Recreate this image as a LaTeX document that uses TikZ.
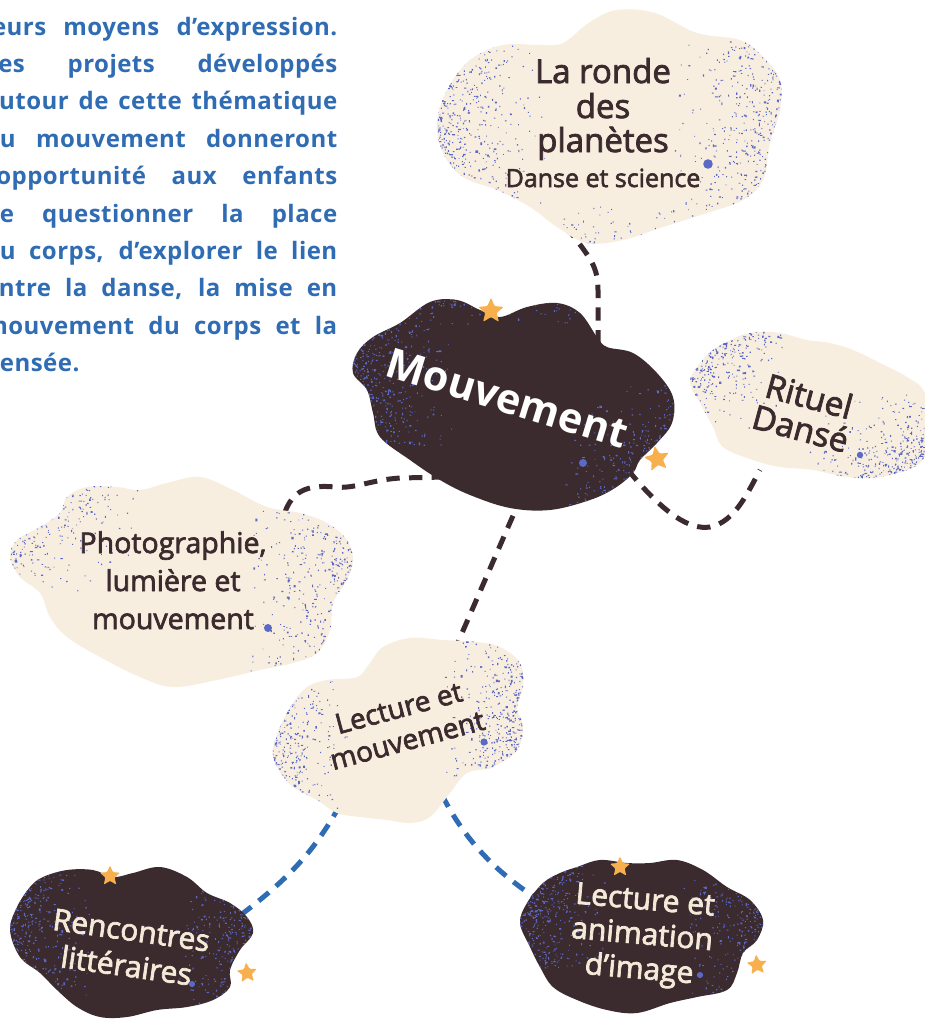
\documentclass[tikz,border=0pt]{standalone}
\usepackage{fontspec}
\setmainfont{Open Sans}
\newfontfamily\med{Open Sans}[FakeBold=2.4]
\newfontfamily\parafont{Open Sans}[LetterSpace=2]
\usetikzlibrary{shapes.geometric}
\definecolor{dark}{HTML}{3B2B2E}
\definecolor{cream}{HTML}{F8EEDF}
\definecolor{speckcol}{HTML}{5A68C6}
\definecolor{starcol}{HTML}{F8B04E}
\definecolor{parablue}{HTML}{2F6CB3}
\definecolor{lightcream}{HTML}{F4EAD8}
% #1 x0, #2 y0, #3 w, #4 h, #5 count, #6 x-law, #7 y-law
\newcommand\speck[7]{%
  \fill[speckcol] \foreach \k in {1,...,#5}{ ({#1+#3*(#6)},{#2+#4*(#7)}) rectangle ++({0.9+2.6*rnd*rnd*rnd},{0.9+2.6*rnd*rnd*rnd}) };%
}
\def\cA{plot[smooth cycle,tension=0.6] coordinates {(563,43) (590,22) (617,10) (655,13) (697,33) (740,40) (763,57) (780,80) (780,110) (770,143) (763,180) (743,200) (707,213) (663,227) (623,240) (587,243) (557,227) (530,207) (497,190) (463,177) (443,153) (437,123) (447,90) (470,60) (503,45) (540,45)}}
\def\cB{plot[smooth cycle,tension=0.6] coordinates {(400,323) (430,302) (457,300) (480,310) (500,317) (527,307) (557,303) (580,313) (597,337) (607,347) (633,353) (657,373) (673,397) (672,423) (657,443) (640,460) (633,473) (615,488) (590,500) (550,510) (510,508) (470,495) (440,480) (410,460) (380,437) (373,413) (367,390) (353,373) (357,353) (373,337)}}
\def\cC{plot[smooth cycle,tension=0.6] coordinates {(737,337) (757,332) (780,333) (807,340) (830,343) (853,350) (880,363) (907,377) (925,393) (930,430) (920,463) (880,477) (847,477) (813,470) (780,467) (753,460) (723,447) (713,427) (700,403) (690,383) (697,367) (713,350)}}
\def\cD{plot[smooth cycle,tension=0.6] coordinates {(167,483) (200,477) (233,490) (267,507) (300,513) (327,523) (347,540) (353,560) (347,580) (333,603) (330,630) (317,653) (293,663) (260,670) (217,680) (173,687) (140,677) (100,657) (67,637) (50,617) (40,593) (20,577) (10,557) (17,540) (40,527) (60,513) (67,497) (87,487) (117,487) (140,490)}}
\def\cE{plot[smooth cycle,tension=0.6] coordinates {(410,638) (443,640) (477,642) (500,647) (520,663) (523,687) (517,707) (523,727) (517,750) (493,767) (467,773) (450,793) (430,817) (410,823) (387,820) (360,817) (337,813) (317,800) (293,787) (277,767) (273,750) (280,727) (293,703) (307,687) (327,680) (357,677) (370,663) (383,647)}}
\def\cF{plot[smooth cycle,tension=0.6] coordinates {(43,877) (67,870) (93,870) (113,877) (133,873) (160,867) (187,877) (207,893) (230,903) (247,917) (253,933) (240,950) (230,970) (230,987) (213,1000) (187,1007) (157,1010) (127,1017) (100,1017) (77,1007) (57,990) (40,973) (20,957) (10,930) (17,907) (30,887)}}
\def\cG{plot[smooth cycle,tension=0.6] coordinates {(577,867) (600,860) (627,863) (650,863) (677,860) (703,870) (727,887) (750,900) (763,920) (757,940) (743,953) (737,973) (727,990) (697,997) (670,1003) (637,1013) (607,1010) (577,1000) (553,987) (540,967) (530,947) (520,923) (527,903) (543,883) (560,873)}}
\begin{document}
\begin{tikzpicture}[x=0.75pt,y=-0.75pt,
  para/.style={text=parablue,font=\parafont\bfseries\fontsize{18pt}{21pt}\selectfont,inner sep=0pt,anchor=base west},
  conn/.style={draw=dark,line width=3.75pt,dash pattern=on 10pt off 7pt},
  bconn/.style={draw=parablue,line width=3.75pt,dash pattern=on 10pt off 7pt},
  ctxt/.style={text=dark,inner sep=0pt,align=center},
  dtxt/.style={text=lightcream,inner sep=0pt,align=center},
  starbig/.style={star,star points=5,star point ratio=2.2,fill=starcol,draw=none,minimum size=20pt,inner sep=0pt,rounded corners=0.8pt},
  starsmall/.style={starbig,minimum size=16pt}]
\useasboundingbox (0,0) rectangle (925,1022);
\clip (0,0) rectangle (925,1022);
\fill[white] (0,0) rectangle (925,1022);
\pgfmathsetseed{4242}
% paragraph
\node[para] (p1) at (-16,35) {\makebox[264.75pt][s]{leurs moyens d’expression.}};
\node[para] (p2) at (-16,72.4) {\makebox[264.75pt][s]{Les projets développés}};
\node[para] (p3) at (-16,109.8) {\makebox[264.75pt][s]{autour de cette thématique}};
\node[para] (p4) at (-16,147.2) {\makebox[264.75pt][s]{du mouvement donneront}};
\node[para] (p5) at (-16,184.6) {\makebox[264.75pt][s]{l’opportunité aux enfants}};
\node[para] (p6) at (-16,222) {\makebox[264.75pt][s]{de questionner la place}};
\node[para] (p7) at (-16,259.4) {\makebox[264.75pt][s]{du corps, d’explorer le lien}};
\node[para] (p8) at (-16,296.8) {\makebox[264.75pt][s]{entre la danse, la mise en}};
\node[para] (p9) at (-16,334.2) {\makebox[264.75pt][s]{mouvement du corps et la}};
\node[para] (p10) at (-16,371.6) {pensée.};
% connector end points
\coordinate (rondeS) at (566,226);
\coordinate (mouvN) at (598,352);
\coordinate (mouvE) at (628,470);
\coordinate (ritW) at (760,470);
\coordinate (mouvW) at (445,477);
\coordinate (photoN) at (285,512);
\coordinate (mouvS) at (522,495);
\coordinate (lecN) at (452,656);
\coordinate (lecSW) at (340,805);
\coordinate (rencNE) at (238,917);
\coordinate (lecSE) at (442,795);
\coordinate (animNW) at (542,902);
% connectors
\draw[conn] (rondeS) .. controls (588,256) and (598,264) .. (598,290) -- (mouvN);
\draw[conn] (mouvE) .. controls (665,515) and (690,530) .. (710,527) .. controls (735,522) and (748,492) .. (ritW);
\draw[conn] (mouvW) -- (400,478) .. controls (370,480) and (355,489) .. (335,487) .. controls (305,484) and (292,493) .. (photoN);
\draw[conn] (mouvS) -- (lecN);
\draw[bconn] (lecSW) .. controls (315,850) and (290,878) .. (rencNE);
\draw[bconn] (lecSE) .. controls (465,840) and (495,872) .. (animNW);
% clouds
\fill[cream] \cA;
\begin{scope}\clip \cA;
\speck{437}{40}{110}{170}{650}{rnd*rnd}{rnd}
\speck{670}{40}{115}{200}{750}{1-rnd*rnd}{rnd}
\speck{560}{190}{150}{60}{120}{rnd}{1-rnd*rnd}
\fill[speckcol] (708,164) circle[radius=3.6pt];
\end{scope}
\fill[dark] \cB;
\begin{scope}\clip \cB;
\speck{350}{295}{110}{150}{700}{rnd*rnd}{rnd}
\speck{560}{370}{115}{145}{800}{1-rnd*rnd}{1-rnd*rnd}
\speck{430}{295}{150}{30}{150}{rnd}{rnd*rnd}
\fill[speckcol] (583,463) circle[radius=3pt];
\end{scope}
\fill[cream] \cC;
\begin{scope}\clip \cC;
\speck{688}{330}{100}{100}{550}{rnd*rnd}{rnd*rnd}
\speck{800}{390}{130}{100}{700}{1-rnd*rnd}{1-rnd*rnd}
\fill[speckcol] (860,455) circle[radius=2.4pt];
\end{scope}
\fill[cream] \cD;
\begin{scope}\clip \cD;
\speck{10}{475}{130}{130}{650}{rnd*rnd}{rnd*rnd}
\speck{240}{510}{120}{180}{750}{1-rnd*rnd}{rnd}
\fill[speckcol] (268,628) circle[radius=3pt];
\end{scope}
\fill[cream] \cE;
\begin{scope}\clip \cE;
\speck{270}{680}{80}{145}{500}{rnd*rnd}{rnd}
\speck{440}{640}{90}{140}{650}{1-rnd*rnd}{rnd}
\fill[speckcol] (484,742) circle[radius=2.7pt];
\end{scope}
\fill[dark] \cF;
\begin{scope}\clip \cF;
\speck{8}{865}{90}{130}{550}{rnd*rnd}{rnd}
\speck{170}{890}{90}{130}{600}{1-rnd*rnd}{rnd}
\fill[speckcol] (192,984) circle[radius=2.3pt];
\end{scope}
\fill[dark] \cG;
\begin{scope}\clip \cG;
\speck{518}{860}{90}{110}{550}{rnd*rnd}{rnd}
\speck{680}{880}{90}{135}{600}{1-rnd*rnd}{rnd}
\fill[speckcol] (700,975) circle[radius=2.3pt];
\end{scope}
% stars
\node[starbig] (s1) at (491,311) {};
\node[starbig,rotate=10] (s2) at (657,459) {};
\node[starsmall] (s3) at (110,876) {};
\node[starsmall,rotate=5] (s4) at (247,973) {};
\node[starsmall] (s5) at (620,867) {};
\node[starsmall,rotate=5] (s6) at (757,965) {};
% texts
\node[ctxt,anchor=base,font=\med\fontsize{24.75pt}{28pt}\selectfont] (ronde1) at (603,83) {La ronde};
\node[ctxt,anchor=base,font=\med\fontsize{24.75pt}{28pt}\selectfont] (ronde2) at (603,118) {des};
\node[ctxt,anchor=base,font=\med\fontsize{24.75pt}{28pt}\selectfont] (ronde3) at (603,152) {planètes};
\node[ctxt,anchor=base,font=\med\fontsize{18.75pt}{22pt}\selectfont] (ronde4) at (603,187) {Danse et science};
\node[text=white,inner sep=0pt,rotate=-17,font=\bfseries\fontsize{31pt}{34pt}\selectfont] (mouv) at (507,398) {Mouvement};
\node[ctxt,rotate=-15,font=\med\fontsize{25pt}{25pt}\selectfont] (rituel) at (805,412) {Rituel\\Dansé};
\node[ctxt,anchor=base,font=\med\fontsize{21.4pt}{26pt}\selectfont] (photo1) at (173,553) {Photographie,};
\node[ctxt,anchor=base,font=\med\fontsize{21.4pt}{26pt}\selectfont] (photo2) at (173,591) {lumière et};
\node[ctxt,anchor=base,font=\med\fontsize{21.4pt}{26pt}\selectfont] (photo3) at (173,629) {mouvement};
\node[ctxt,rotate=15,font=\med\fontsize{21pt}{25pt}\selectfont] (lecmv) at (403,724) {Lecture et\\mouvement};
\node[dtxt,rotate=-8,font=\med\fontsize{22.5pt}{27pt}\selectfont] (renc) at (129,948) {Rencontres\\littéraires};
\node[dtxt,rotate=-5,font=\med\fontsize{22.5pt}{26pt}\selectfont] (anim) at (642,937) {Lecture et\\animation\\d’image};
\end{tikzpicture}
\end{document}
